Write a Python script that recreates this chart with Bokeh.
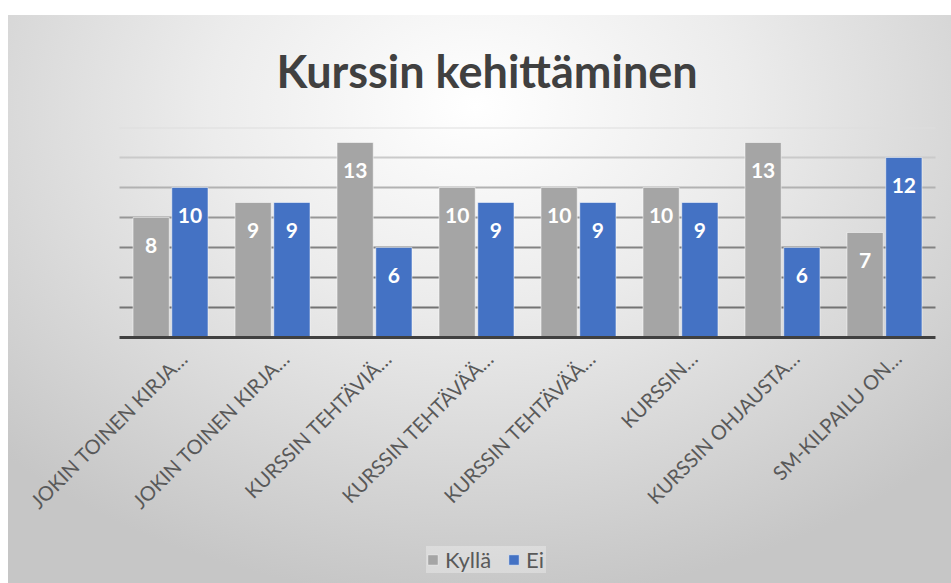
import math
from bokeh.plotting import figure
from bokeh.models import ColumnDataSource, Range1d, Legend, LegendItem
from bokeh.transform import dodge
from bokeh.core.properties import value
from bokeh.embed import file_html
from bokeh.resources import INLINE

# ---- data ----
categories = ["JOKIN TOINEN KIRJA…", "JOKIN TOINEN KIRJA…", "KURSSIN TEHTÄVIÄ…",
              "KURSSIN TEHTÄVÄÄ…", "KURSSIN TEHTÄVÄÄ…", "KURSSIN…",
              "KURSSIN OHJAUSTA…", "SM-KILPAILU ON…"]
kylla = [8, 9, 13, 10, 10, 10, 13, 7]
ei = [10, 9, 6, 9, 9, 9, 6, 12]
series_names = ["Kyllä", "Ei"]
title_text = "Kurssin kehittäminen"

n = len(categories)
idx = list(range(n))
src = ColumnDataSource(dict(
    x=idx, zero=[0] * n, cat=categories, kylla=kylla, ei=ei,
    kylla_txt=[str(v) for v in kylla], ei_txt=[str(v) for v in ei]))

FONT = "Lato"
GRAY = "#a5a5a5"
BLUE = "#4472c4"

# plotting frame covers the whole chart area so that rotated category labels
# and the legend can live inside it
p = figure(width=951, height=583, x_range=Range1d(-1.667, 7.657),
           y_range=Range1d(-16.2, 14), output_backend="svg", toolbar_location=None,
           min_border_left=0, min_border_right=0, min_border_top=127,
           min_border_bottom=3)
p.xaxis.visible = False
p.yaxis.visible = False
p.xgrid.visible = False
p.ygrid.visible = False

p.background_fill_color = None
p.border_fill_color = None
p.outline_line_color = None
p.styles = {
    "background": "linear-gradient(#ffffff, #ffffff) 0 0 / 100% 15px no-repeat, "
                  "linear-gradient(#ffffff, #ffffff) 0 0 / 8px 100% no-repeat, "
                  "radial-gradient(ellipse 70% 85% at 50% 18%, #ffffff 0%, #ececec 40%, #c6c6c6 100%)"
}

# title
p.title.text = title_text
p.title.align = "left"
p.title.offset = 276
p.title.text_font = FONT
p.title.text_font_style = "bold"
p.title.text_font_size = "45px"
p.title.text_color = "#404040"
p.title.standoff = 59

# horizontal gridlines (darker towards the bottom), spanning the category band
grid_ticks = [2, 4, 6, 8, 10, 12, 14]
grid_colors = ["#737373", "#7a7a7a", "#838383", "#979797", "#b2b2b2", "#cacaca", "#dedede"]
p.segment(x0=[-0.5] * len(grid_ticks), x1=[n - 0.5] * len(grid_ticks),
          y0=grid_ticks, y1=grid_ticks, line_color=grid_colors, line_width=2)

# bars
off = 0.19
bw = 0.355
r1 = p.vbar(x=dodge("x", -off, range=p.x_range), top="kylla", width=bw, source=src,
            fill_color=GRAY, line_color="#ffffff", line_alpha=0.5, line_width=1)
r2 = p.vbar(x=dodge("x", off, range=p.x_range), top="ei", width=bw, source=src,
            fill_color=BLUE, line_color="#ffffff", line_alpha=0.5, line_width=1)

# category axis line
p.segment(x0=[-0.5], x1=[n - 0.5], y0=[0], y1=[0], line_color="#404040", line_width=3)

# value labels
for xo, col, txt in [(-off, "kylla", "kylla_txt"), (off, "ei", "ei_txt")]:
    p.text(x=dodge("x", xo, range=p.x_range), y=col, text=txt, source=src,
           y_offset=28, text_align="center", text_baseline="middle",
           text_color="#ffffff", text_font=value(FONT), text_font_style="bold",
           text_font_size="21px")

# rotated category labels
p.text(x="x", y="zero", text="cat", source=src, angle=math.pi / 4,
       text_align="right", text_baseline="alphabetic", x_offset=13, y_offset=17,
       text_color="#595959", text_font=value(FONT), text_font_size="20px")

# legend
legend = Legend(items=[LegendItem(label=series_names[0], renderers=[r1]),
                       LegendItem(label=series_names[1], renderers=[r2])],
                orientation="horizontal", location=(426, 7))
legend.background_fill_color = "#ffffff"
legend.background_fill_alpha = 0.3
legend.border_line_color = None
legend.label_text_font = FONT
legend.label_text_font_size = "22px"
legend.label_text_color = "#595959"
legend.label_height = 24
legend.glyph_width = 13
legend.glyph_height = 13
legend.label_standoff = 6
legend.spacing = 16
legend.padding = 10
legend.margin = 0
p.add_layout(legend, "center")

open("out.html", "w").write(file_html(p, INLINE))
